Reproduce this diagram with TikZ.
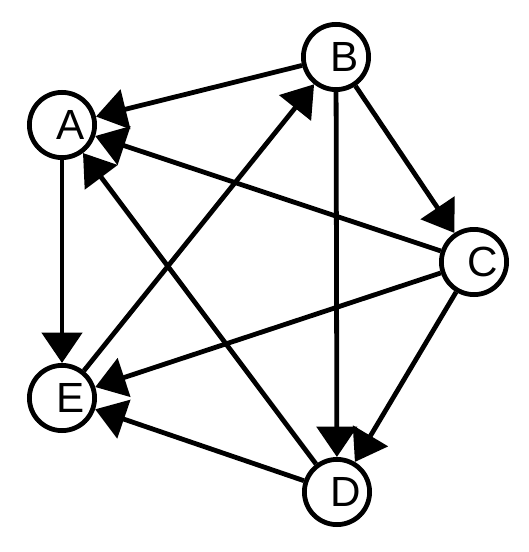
\documentclass[tikz,border=0pt]{standalone}
\usepackage{fontspec}
\setmainfont{Liberation Sans}
\usetikzlibrary{arrows.meta}

\begin{document}
\begin{tikzpicture}[x=0.025cm, y=-0.025cm,
    vertex/.style={draw, circle, line width=3.4pt, minimum size=1.63cm, inner sep=0pt,
        font=\fontsize{30}{36}\selectfont, execute at begin node={\hspace*{0.45cm}}},
    edge/.style={line width=3.4pt, -{Triangle[length=0.76cm, width=1.0cm]}}]
    \useasboundingbox (0,0) rectangle (528,552);

    % Vertices
    \node[vertex] (A) at (62,125) {A};
    \node[vertex] (B) at (336,57) {B};
    \node[vertex] (C) at (474,262) {C};
    \node[vertex] (D) at (337,492) {D};
    \node[vertex] (E) at (62,398) {E};

    % Edges
    \draw[edge] (B) -- (A);
    \draw[edge] (A) -- (E);
    \draw[edge] (B) -- (C);
    \draw[edge] (B) -- (D);
    \draw[edge] (C) -- (A);
    \draw[edge] (C) -- (E);
    \draw[edge] (C) -- (D);
    \draw[edge] (D) -- (A);
    \draw[edge] (D) -- (E);
    \draw[edge] (E) -- (B);
\end{tikzpicture}
\end{document}
